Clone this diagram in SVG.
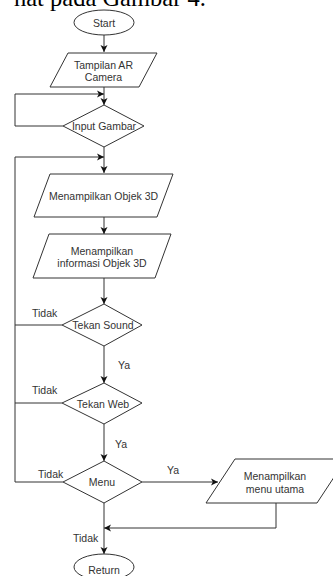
<svg xmlns="http://www.w3.org/2000/svg" width="333" height="576" viewBox="0 0 333 576">
<defs>
<marker id="ah" markerWidth="8" markerHeight="8" refX="7" refY="4" orient="auto" markerUnits="userSpaceOnUse">
<path d="M0,0.5 L7,4 L0,7.5 L1.8,4 Z" fill="#111"/>
</marker>
<style>
.s{fill:#fff;stroke:#333;stroke-width:1}
.t{font-family:"Liberation Sans",Arial,sans-serif;font-size:10.5px;fill:#333;text-anchor:middle;dominant-baseline:central}
.l{font-family:"Liberation Sans",Arial,sans-serif;font-size:10.5px;fill:#333;dominant-baseline:central}
.c{fill:none;stroke:#333;stroke-width:1}
</style>
</defs>
<rect width="333" height="576" fill="#fff"/>
<text x="14" y="6" font-family="'Liberation Serif','Times New Roman',serif" font-size="24.5" fill="#000">hat pada Gambar 4.</text>
<g id="connectors">
<path class="c" d="M104,35 V52" marker-end="url(#ah)"/>
<path class="c" d="M104,87 V105" marker-end="url(#ah)"/>
<path class="c" d="M63,126 H15 V94 H104" marker-end="url(#ah)"/>
<path class="c" d="M104,147 V173" marker-end="url(#ah)"/>
<path class="c" d="M63,482 H15 V157 H104" marker-end="url(#ah)"/>
<path class="c" d="M104,217 V234" marker-end="url(#ah)"/>
<path class="c" d="M104,278 V304" marker-end="url(#ah)"/>
<path class="c" d="M62,325 H15"/>
<path class="c" d="M104,346 V383" marker-end="url(#ah)"/>
<path class="c" d="M62,403 H15"/>
<path class="c" d="M104,424 V461" marker-end="url(#ah)"/>
<path class="c" d="M142,482 H218" marker-end="url(#ah)"/>
<path class="c" d="M276,503 V528 H104" marker-end="url(#ah)"/>
<path class="c" d="M104,503 V554" marker-end="url(#ah)"/>
<text class="l" x="32" y="313">Tidak</text>
<text class="l" x="118" y="365">Ya</text>
<text class="l" x="32" y="390">Tidak</text>
<text class="l" x="115" y="444">Ya</text>
<text class="l" x="38" y="474">Tidak</text>
<text class="l" x="167" y="470">Ya</text>
<text class="l" x="73" y="538">Tidak</text>
</g>
<g id="start"><ellipse class="s" cx="104" cy="22.5" rx="30" ry="12.5"/><text class="t" x="104" y="23">Start</text></g>
<g id="tampilan"><polygon class="s" points="68,53 157,53 139,87 50,87"/><text class="t" x="103.5" y="65">Tampilan AR</text><text class="t" x="103.5" y="77">Camera</text></g>
<g id="input"><polygon class="s" points="104,105 144,126 104,147 63,126"/><text class="t" x="104" y="126">Input Gambar</text></g>
<g id="objek"><polygon class="s" points="50,174 173,174 157,217 34,217"/><text class="t" x="103.5" y="196">Menampilkan Objek 3D</text></g>
<g id="info"><polygon class="s" points="49,234 171,234 155,278 33,278"/><text class="t" x="102" y="251">Menampilkan</text><text class="t" x="102" y="263">informasi Objek 3D</text></g>
<g id="sound"><polygon class="s" points="104,304 142,325 104,346 62,325"/><text class="t" x="103" y="325">Tekan Sound</text></g>
<g id="web"><polygon class="s" points="104,383 142,403 104,424 62,403"/><text class="t" x="103" y="404">Tekan Web</text></g>
<g id="menu"><polygon class="s" points="104,461 142,482 104,503 63,482"/><text class="t" x="102" y="482">Menu</text></g>
<g id="menuutama"><polygon class="s" points="235,459 346,459 317,503 206,503"/><text class="t" x="275" y="476">Menampilkan</text><text class="t" x="275" y="489">menu utama</text></g>
<g id="return"><ellipse class="s" cx="104" cy="567" rx="30" ry="13"/><text class="t" x="104" y="570">Return</text></g>
</svg>
